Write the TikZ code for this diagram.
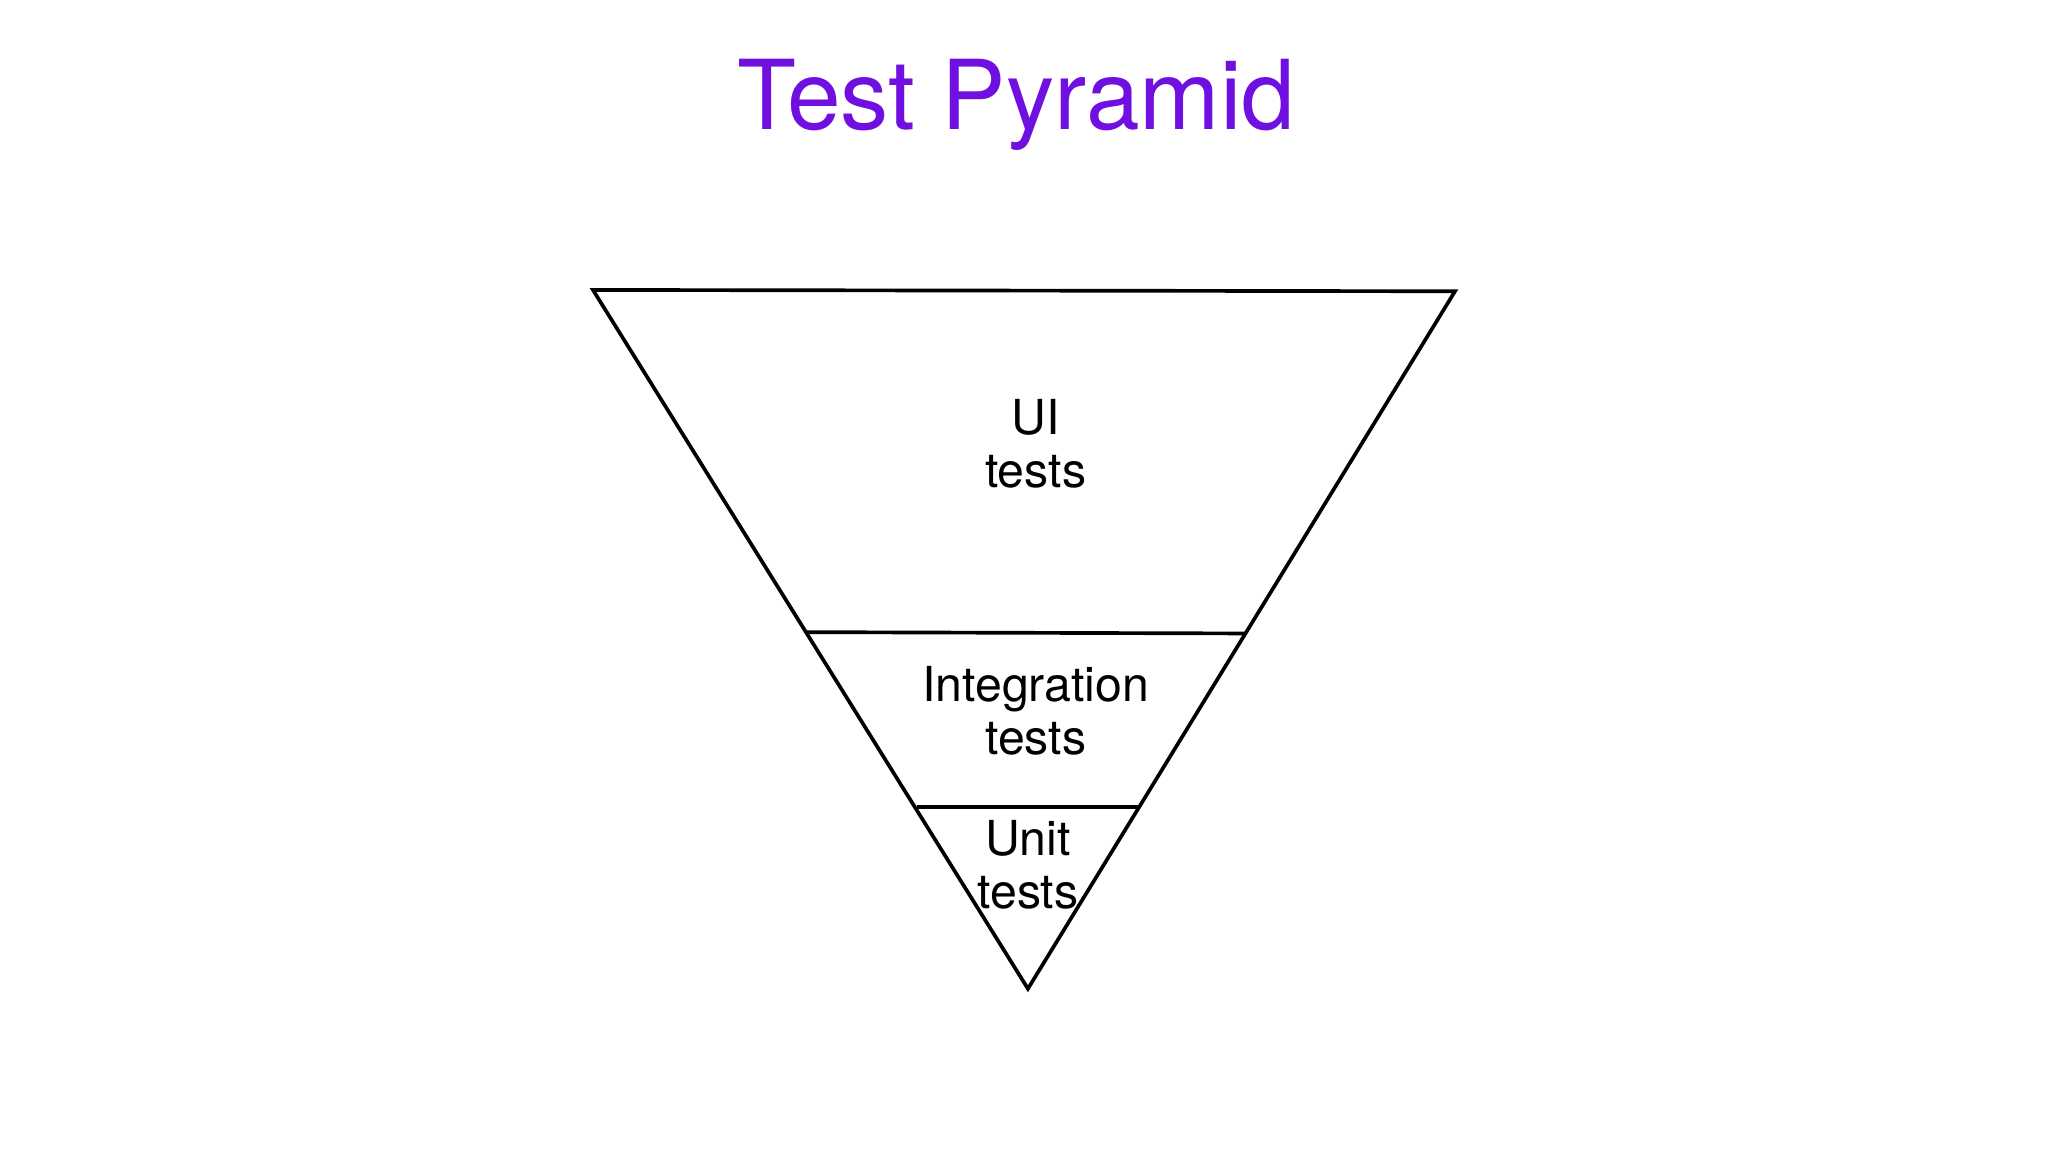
\documentclass[tikz,border=0pt]{standalone}
\usepackage{fontspec}
\setmainfont{TeX Gyre Heros}
\definecolor{ttl}{HTML}{7010E0}
\begin{document}
\begin{tikzpicture}[x=0.01cm,y=-0.01cm,
  lbl/.style={align=center,font=\fontsize{10.5pt}{11.5pt}\selectfont},
  edge/.style={line width=0.8pt,line join=miter}]
\useasboundingbox (0,0) rectangle (1568,882);
\node[text=ttl,font=\fontsize{21pt}{24pt}\selectfont] (title) at (778,80) {Test Pyramid};
\coordinate (tl) at (454,222);
\coordinate (tr) at (1114,223);
\coordinate (ap) at (787,757);
\coordinate (m1l) at (618,484);
\coordinate (m1r) at (954,485);
\coordinate (m2l) at (702,618);
\coordinate (m2r) at (872,618);
\draw[edge] (tl) -- (tr) -- (ap) -- cycle;
\draw[edge] (m1l) -- (m1r);
\draw[edge] (m2l) -- (m2r);
\node[lbl] (ui) at (793,340) {UI\\tests};
\node[lbl] (it) at (793,544) {Integration\\tests};
\node[lbl] (ut) at (787,662) {Unit\\tests};
\end{tikzpicture}
\end{document}
